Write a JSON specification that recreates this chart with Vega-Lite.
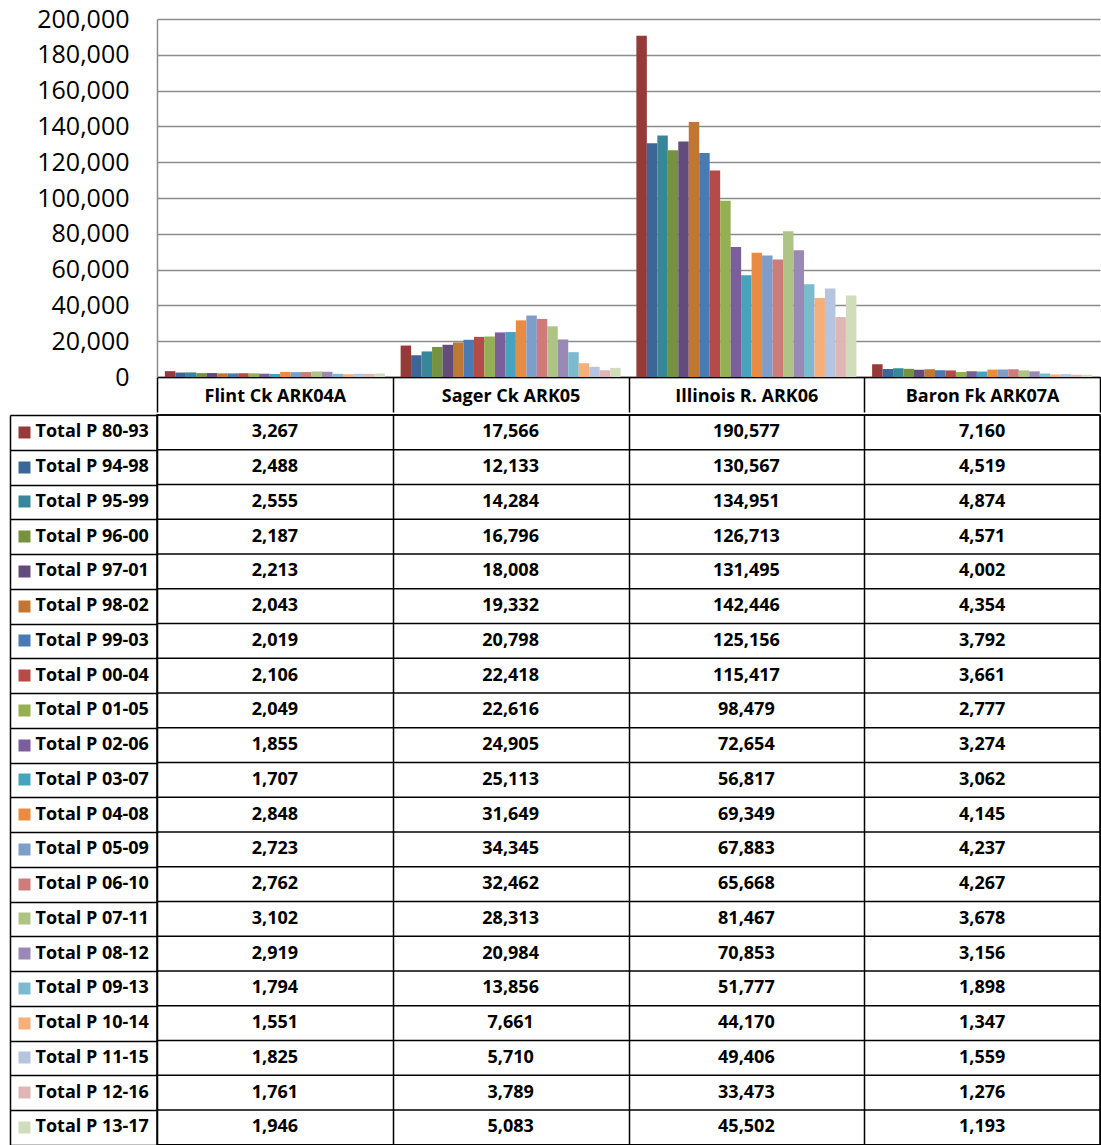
{
  "$schema": "https://vega.github.io/schema/vega-lite/v6.json",
  "padding": {"left": 0, "top": 7, "right": 0, "bottom": 0},
  "spacing": 0,
  "config": {"view": {"stroke": null}, "font": "Open Sans", "axis": {"labelFont": "Open Sans"}},
  "data": {"values": [
    {"s": "Total P 80-93", "site": "Flint Ck ARK04A", "v": 3267}, {"s": "Total P 80-93", "site": "Sager Ck ARK05", "v": 17566}, {"s": "Total P 80-93", "site": "Illinois R. ARK06", "v": 190577}, {"s": "Total P 80-93", "site": "Baron Fk ARK07A", "v": 7160},
    {"s": "Total P 94-98", "site": "Flint Ck ARK04A", "v": 2488}, {"s": "Total P 94-98", "site": "Sager Ck ARK05", "v": 12133}, {"s": "Total P 94-98", "site": "Illinois R. ARK06", "v": 130567}, {"s": "Total P 94-98", "site": "Baron Fk ARK07A", "v": 4519},
    {"s": "Total P 95-99", "site": "Flint Ck ARK04A", "v": 2555}, {"s": "Total P 95-99", "site": "Sager Ck ARK05", "v": 14284}, {"s": "Total P 95-99", "site": "Illinois R. ARK06", "v": 134951}, {"s": "Total P 95-99", "site": "Baron Fk ARK07A", "v": 4874},
    {"s": "Total P 96-00", "site": "Flint Ck ARK04A", "v": 2187}, {"s": "Total P 96-00", "site": "Sager Ck ARK05", "v": 16796}, {"s": "Total P 96-00", "site": "Illinois R. ARK06", "v": 126713}, {"s": "Total P 96-00", "site": "Baron Fk ARK07A", "v": 4571},
    {"s": "Total P 97-01", "site": "Flint Ck ARK04A", "v": 2213}, {"s": "Total P 97-01", "site": "Sager Ck ARK05", "v": 18008}, {"s": "Total P 97-01", "site": "Illinois R. ARK06", "v": 131495}, {"s": "Total P 97-01", "site": "Baron Fk ARK07A", "v": 4002},
    {"s": "Total P 98-02", "site": "Flint Ck ARK04A", "v": 2043}, {"s": "Total P 98-02", "site": "Sager Ck ARK05", "v": 19332}, {"s": "Total P 98-02", "site": "Illinois R. ARK06", "v": 142446}, {"s": "Total P 98-02", "site": "Baron Fk ARK07A", "v": 4354},
    {"s": "Total P 99-03", "site": "Flint Ck ARK04A", "v": 2019}, {"s": "Total P 99-03", "site": "Sager Ck ARK05", "v": 20798}, {"s": "Total P 99-03", "site": "Illinois R. ARK06", "v": 125156}, {"s": "Total P 99-03", "site": "Baron Fk ARK07A", "v": 3792},
    {"s": "Total P 00-04", "site": "Flint Ck ARK04A", "v": 2106}, {"s": "Total P 00-04", "site": "Sager Ck ARK05", "v": 22418}, {"s": "Total P 00-04", "site": "Illinois R. ARK06", "v": 115417}, {"s": "Total P 00-04", "site": "Baron Fk ARK07A", "v": 3661},
    {"s": "Total P 01-05", "site": "Flint Ck ARK04A", "v": 2049}, {"s": "Total P 01-05", "site": "Sager Ck ARK05", "v": 22616}, {"s": "Total P 01-05", "site": "Illinois R. ARK06", "v": 98479}, {"s": "Total P 01-05", "site": "Baron Fk ARK07A", "v": 2777},
    {"s": "Total P 02-06", "site": "Flint Ck ARK04A", "v": 1855}, {"s": "Total P 02-06", "site": "Sager Ck ARK05", "v": 24905}, {"s": "Total P 02-06", "site": "Illinois R. ARK06", "v": 72654}, {"s": "Total P 02-06", "site": "Baron Fk ARK07A", "v": 3274},
    {"s": "Total P 03-07", "site": "Flint Ck ARK04A", "v": 1707}, {"s": "Total P 03-07", "site": "Sager Ck ARK05", "v": 25113}, {"s": "Total P 03-07", "site": "Illinois R. ARK06", "v": 56817}, {"s": "Total P 03-07", "site": "Baron Fk ARK07A", "v": 3062},
    {"s": "Total P 04-08", "site": "Flint Ck ARK04A", "v": 2848}, {"s": "Total P 04-08", "site": "Sager Ck ARK05", "v": 31649}, {"s": "Total P 04-08", "site": "Illinois R. ARK06", "v": 69349}, {"s": "Total P 04-08", "site": "Baron Fk ARK07A", "v": 4145},
    {"s": "Total P 05-09", "site": "Flint Ck ARK04A", "v": 2723}, {"s": "Total P 05-09", "site": "Sager Ck ARK05", "v": 34345}, {"s": "Total P 05-09", "site": "Illinois R. ARK06", "v": 67883}, {"s": "Total P 05-09", "site": "Baron Fk ARK07A", "v": 4237},
    {"s": "Total P 06-10", "site": "Flint Ck ARK04A", "v": 2762}, {"s": "Total P 06-10", "site": "Sager Ck ARK05", "v": 32462}, {"s": "Total P 06-10", "site": "Illinois R. ARK06", "v": 65668}, {"s": "Total P 06-10", "site": "Baron Fk ARK07A", "v": 4267},
    {"s": "Total P 07-11", "site": "Flint Ck ARK04A", "v": 3102}, {"s": "Total P 07-11", "site": "Sager Ck ARK05", "v": 28313}, {"s": "Total P 07-11", "site": "Illinois R. ARK06", "v": 81467}, {"s": "Total P 07-11", "site": "Baron Fk ARK07A", "v": 3678},
    {"s": "Total P 08-12", "site": "Flint Ck ARK04A", "v": 2919}, {"s": "Total P 08-12", "site": "Sager Ck ARK05", "v": 20984}, {"s": "Total P 08-12", "site": "Illinois R. ARK06", "v": 70853}, {"s": "Total P 08-12", "site": "Baron Fk ARK07A", "v": 3156},
    {"s": "Total P 09-13", "site": "Flint Ck ARK04A", "v": 1794}, {"s": "Total P 09-13", "site": "Sager Ck ARK05", "v": 13856}, {"s": "Total P 09-13", "site": "Illinois R. ARK06", "v": 51777}, {"s": "Total P 09-13", "site": "Baron Fk ARK07A", "v": 1898},
    {"s": "Total P 10-14", "site": "Flint Ck ARK04A", "v": 1551}, {"s": "Total P 10-14", "site": "Sager Ck ARK05", "v": 7661}, {"s": "Total P 10-14", "site": "Illinois R. ARK06", "v": 44170}, {"s": "Total P 10-14", "site": "Baron Fk ARK07A", "v": 1347},
    {"s": "Total P 11-15", "site": "Flint Ck ARK04A", "v": 1825}, {"s": "Total P 11-15", "site": "Sager Ck ARK05", "v": 5710}, {"s": "Total P 11-15", "site": "Illinois R. ARK06", "v": 49406}, {"s": "Total P 11-15", "site": "Baron Fk ARK07A", "v": 1559},
    {"s": "Total P 12-16", "site": "Flint Ck ARK04A", "v": 1761}, {"s": "Total P 12-16", "site": "Sager Ck ARK05", "v": 3789}, {"s": "Total P 12-16", "site": "Illinois R. ARK06", "v": 33473}, {"s": "Total P 12-16", "site": "Baron Fk ARK07A", "v": 1276},
    {"s": "Total P 13-17", "site": "Flint Ck ARK04A", "v": 1946}, {"s": "Total P 13-17", "site": "Sager Ck ARK05", "v": 5083}, {"s": "Total P 13-17", "site": "Illinois R. ARK06", "v": 45502}, {"s": "Total P 13-17", "site": "Baron Fk ARK07A", "v": 1193}
  ]},
  "vconcat": [
    {
      "width": 943,
      "height": 358,
      "mark": {"type": "bar"},
      "encoding": {
        "x": {
          "field": "site", "type": "nominal",
          "sort": ["Flint Ck ARK04A", "Sager Ck ARK05", "Illinois R. ARK06", "Baron Fk ARK07A"],
          "scale": {"paddingInner": 0, "paddingOuter": 0},
          "axis": {"title": null, "orient": "bottom", "tickBand": "extent", "ticks": true, "tickSize": 35, "tickColor": "black", "tickWidth": 1.5, "domainColor": "black", "domainWidth": 1.5, "labelFontWeight": "bold", "labelFontSize": 18, "labelColor": "black", "labelPadding": -16, "labelBaseline": "middle", "labelAngle": 0, "grid": false}
        },
        "xOffset": {
          "field": "s", "type": "nominal",
          "sort": ["Total P 80-93","Total P 94-98","Total P 95-99","Total P 96-00","Total P 97-01","Total P 98-02","Total P 99-03","Total P 00-04","Total P 01-05","Total P 02-06","Total P 03-07","Total P 04-08","Total P 05-09","Total P 06-10","Total P 07-11","Total P 08-12","Total P 09-13","Total P 10-14","Total P 11-15","Total P 12-16","Total P 13-17"],
          "scale": {"paddingInner": 0, "paddingOuter": 0.7516}
        },
        "y": {
          "field": "v", "type": "quantitative",
          "scale": {"domain": [0, 200000], "nice": false},
          "axis": {"title": null, "values": [0, 20000, 40000, 60000, 80000, 100000, 120000, 140000, 160000, 180000, 200000], "labelExpr": "format(datum.value, ',')", "grid": true, "gridColor": "#8c8c8c", "gridWidth": 1.5, "ticks": false, "domainColor": "#8c8c8c", "domainWidth": 1.5, "labelFontSize": 25, "labelColor": "black", "labelPadding": 28, "minExtent": 157, "maxExtent": 157}
        },
        "color": {
          "field": "s", "type": "nominal", "legend": null,
          "scale": {
            "domain": ["Total P 80-93","Total P 94-98","Total P 95-99","Total P 96-00","Total P 97-01","Total P 98-02","Total P 99-03","Total P 00-04","Total P 01-05","Total P 02-06","Total P 03-07","Total P 04-08","Total P 05-09","Total P 06-10","Total P 07-11","Total P 08-12","Total P 09-13","Total P 10-14","Total P 11-15","Total P 12-16","Total P 13-17"],
            "range": ["#963A39","#3D6698","#378799","#77923F","#624C7C","#C27634","#4A7AB4","#B54B48","#94B052","#7A5F9A","#46A3BE","#E98C42","#7F9DC9","#CC7C7A","#AEC484","#9B89B5","#7BBACF","#F6AE7B","#B5C4DF","#DFB6B5","#D0DCBA"]
          }
        }
      }
    },
    {
      "width": 943,
      "height": 729.75,
      "view": {"stroke": "black", "strokeWidth": 1.5},
      "resolve": {"axis": {"y": "independent"}},
      "encoding": {
        "x": {
          "field": "site", "type": "nominal",
          "sort": ["Flint Ck ARK04A", "Sager Ck ARK05", "Illinois R. ARK06", "Baron Fk ARK07A"],
          "scale": {"type": "band", "paddingInner": 0, "paddingOuter": 0},
          "axis": {"title": null, "orient": "top", "labels": false, "ticks": false, "domain": false, "grid": true, "tickBand": "extent", "gridColor": "black", "gridWidth": 1.5}
        }
      },
      "layer": [
        {
          "transform": [{"filter": "datum.site === 'Flint Ck ARK04A'"}],
          "mark": {"type": "rule", "color": "black", "strokeWidth": 1.5},
          "encoding": {
            "y": {
              "field": "s", "type": "nominal", "bandPosition": 0,
              "sort": ["Total P 80-93","Total P 94-98","Total P 95-99","Total P 96-00","Total P 97-01","Total P 98-02","Total P 99-03","Total P 00-04","Total P 01-05","Total P 02-06","Total P 03-07","Total P 04-08","Total P 05-09","Total P 06-10","Total P 07-11","Total P 08-12","Total P 09-13","Total P 10-14","Total P 11-15","Total P 12-16","Total P 13-17"],
              "scale": {"type": "band", "paddingInner": 0, "paddingOuter": 0},
              "axis": {"title": null, "orient": "left", "offset": 147, "domain": true, "domainColor": "black", "domainWidth": 1.5, "ticks": true, "tickBand": "extent", "tickSize": -147, "tickColor": "black", "tickWidth": 1.5, "labels": false, "grid": false}
            },
            "x": null
          }
        },
        {
          "mark": {"type": "text", "fontWeight": "bold", "fontSize": 18, "color": "black", "font": "Open Sans"},
          "encoding": {
            "y": {
              "field": "s", "type": "nominal",
              "sort": ["Total P 80-93","Total P 94-98","Total P 95-99","Total P 96-00","Total P 97-01","Total P 98-02","Total P 99-03","Total P 00-04","Total P 01-05","Total P 02-06","Total P 03-07","Total P 04-08","Total P 05-09","Total P 06-10","Total P 07-11","Total P 08-12","Total P 09-13","Total P 10-14","Total P 11-15","Total P 12-16","Total P 13-17"],
              "scale": {"type": "band", "paddingInner": 0, "paddingOuter": 0},
              "axis": {
                "title": null, "orient": "left", "offset": 139, "domain": false, "grid": false,
                "ticks": true, "tickSize": -12, "tickWidth": 12,
                "tickColor": {"condition": [
                  {"test": "datum.value === 'Total P 80-93'", "value": "#963A39"},
                  {"test": "datum.value === 'Total P 94-98'", "value": "#3D6698"},
                  {"test": "datum.value === 'Total P 95-99'", "value": "#378799"},
                  {"test": "datum.value === 'Total P 96-00'", "value": "#77923F"},
                  {"test": "datum.value === 'Total P 97-01'", "value": "#624C7C"},
                  {"test": "datum.value === 'Total P 98-02'", "value": "#C27634"},
                  {"test": "datum.value === 'Total P 99-03'", "value": "#4A7AB4"},
                  {"test": "datum.value === 'Total P 00-04'", "value": "#B54B48"},
                  {"test": "datum.value === 'Total P 01-05'", "value": "#94B052"},
                  {"test": "datum.value === 'Total P 02-06'", "value": "#7A5F9A"},
                  {"test": "datum.value === 'Total P 03-07'", "value": "#46A3BE"},
                  {"test": "datum.value === 'Total P 04-08'", "value": "#E98C42"},
                  {"test": "datum.value === 'Total P 05-09'", "value": "#7F9DC9"},
                  {"test": "datum.value === 'Total P 06-10'", "value": "#CC7C7A"},
                  {"test": "datum.value === 'Total P 07-11'", "value": "#AEC484"},
                  {"test": "datum.value === 'Total P 08-12'", "value": "#9B89B5"},
                  {"test": "datum.value === 'Total P 09-13'", "value": "#7BBACF"},
                  {"test": "datum.value === 'Total P 10-14'", "value": "#F6AE7B"},
                  {"test": "datum.value === 'Total P 11-15'", "value": "#B5C4DF"},
                  {"test": "datum.value === 'Total P 12-16'", "value": "#DFB6B5"},
                  {"test": "datum.value === 'Total P 13-17'", "value": "#D0DCBA"}
                ], "value": "black"},
                "labelAlign": "left", "labelBaseline": "middle", "labelPadding": -5,
                "labelFontWeight": "bold", "labelFontSize": 18, "labelColor": "black"
              }
            },
            "text": {"field": "v", "type": "quantitative", "format": ","}
          }
        }
      ]
    }
  ]
}
